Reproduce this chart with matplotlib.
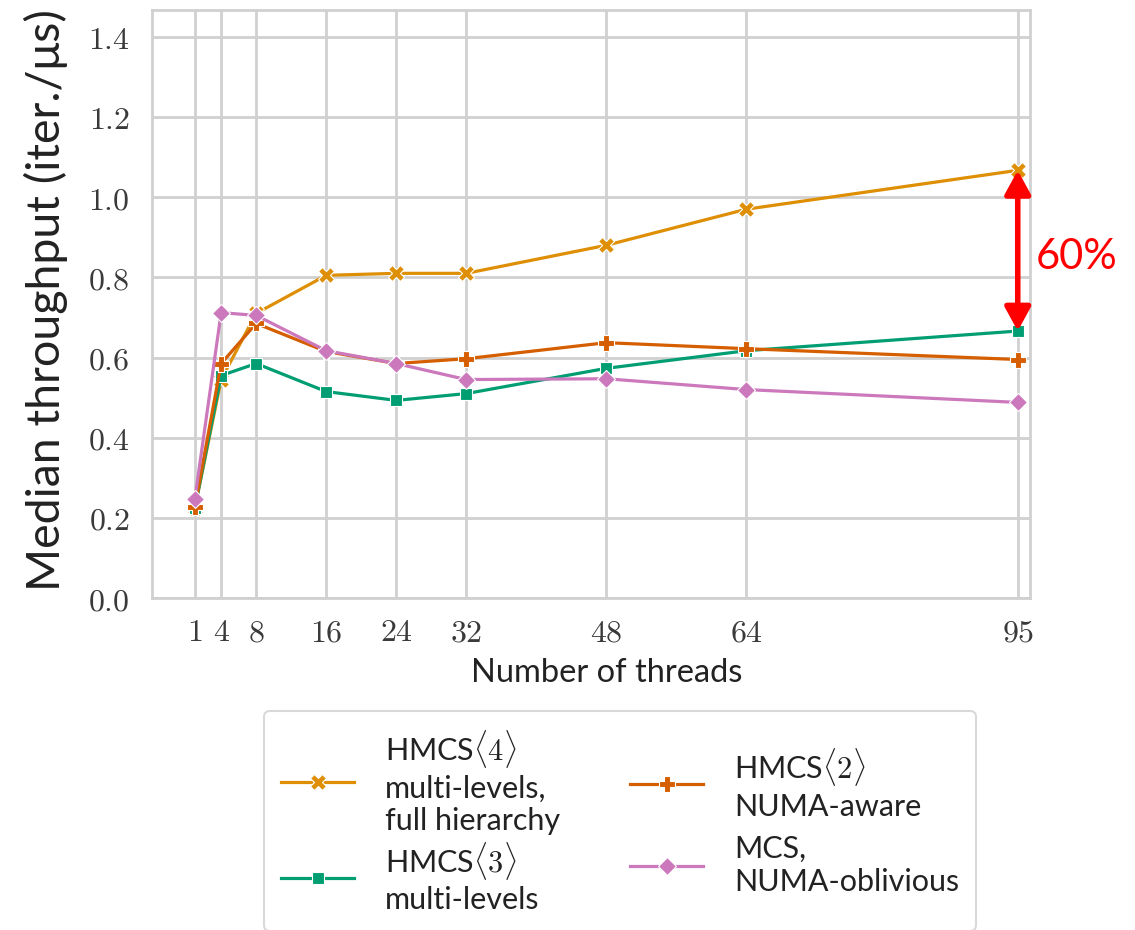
import matplotlib
matplotlib.use("Agg")
import matplotlib.pyplot as plt
from matplotlib.offsetbox import DrawingArea

plt.rcParams['mathtext.fontset'] = 'cm'

threads = [1, 4, 8, 16, 24, 32, 48, 64, 95]
hmcs4 = [0.225, 0.545, 0.71, 0.805, 0.81, 0.81, 0.88, 0.97, 1.067]
hmcs3 = [0.225, 0.555, 0.585, 0.515, 0.493, 0.51, 0.573, 0.617, 0.666]
hmcs2 = [0.228, 0.585, 0.685, 0.615, 0.585, 0.597, 0.637, 0.622, 0.595]
mcs = [0.248, 0.712, 0.705, 0.617, 0.585, 0.545, 0.547, 0.52, 0.488]

labels = ["HMCS$\\langle 4\\rangle$\nmulti-levels,\nfull hierarchy",
          "HMCS$\\langle 3\\rangle$\nmulti-levels",
          "HMCS$\\langle 2\\rangle$\nNUMA-aware",
          "MCS,\nNUMA-oblivious"]
series = [hmcs4, hmcs3, hmcs2, mcs]
colors = ["#de8f05", "#029e73", "#d55e00", "#cc78bc"]
markers = ["X", "s", "P", "D"]
msizes = [11, 9, 12, 9]

yticks = [0.0, 0.2, 0.4, 0.6, 0.8, 1.0, 1.2, 1.4]

fig = plt.figure(figsize=(11.35, 9.3), dpi=100)
ax = fig.add_axes([152/1135, 1-598/930, (1030-152)/1135, (598-10)/930])

for y, lab, c, m, ms in zip(series, labels, colors, markers, msizes):
    ax.plot(threads, y, color=c, marker=m, markersize=ms, linewidth=2.3,
            markeredgecolor='white', markeredgewidth=0.8, label=lab, zorder=3)

ax.set_xlim(-3.9, 96.4)
ax.set_ylim(0, 1.467)
ax.set_xticks(threads)
ax.set_xticklabels([f"${t}$" for t in threads], fontsize=23, color='#3a3a3a')
ax.set_yticks(yticks)
ax.set_yticklabels([f"${v:.1f}$" for v in yticks], fontsize=23, color='#3a3a3a')
ax.tick_params(length=0, pad=16)
ax.tick_params(axis='x', pad=14)
ax.grid(True, color='#d0d0d0', linewidth=2)
ax.set_axisbelow(True)
for s in ax.spines.values():
    s.set_color('#d0d0d0')
    s.set_linewidth(2)

ax.set_xlabel("Number of threads", fontsize=23.5, family='Lato', color='#222222')
ax.xaxis.set_label_coords(0.518, -0.102)
ax.set_ylabel("Median throughput (iter./\u03bcs)", fontsize=33.5, family='Lato', color='#222222')
ax.yaxis.set_label_coords(-0.096, 0.507)

ax.annotate("", xy=(95, hmcs4[-1]), xytext=(95, hmcs3[-1]),
            arrowprops=dict(arrowstyle='<|-|>,head_length=0.55,head_width=0.3', color='red', lw=4,
                            mutation_scale=26, shrinkA=0, shrinkB=0),
            zorder=5, annotation_clip=False)
ax.text(97, 0.85, "60%", color='red', fontsize=30, family='Lato',
        ha='left', va='center', clip_on=False)

leg = fig.legend(loc='center', bbox_to_anchor=(620/1135, 1-821/930), ncol=2,
                 prop={'family': 'Lato', 'size': 22},
                 frameon=True, fancybox=True, edgecolor='#d0d0d0',
                 handlelength=2.4, handletextpad=1.0, columnspacing=2.3,
                 labelspacing=0.15, borderpad=0.55)
leg.get_frame().set_linewidth(1.5)
for t in leg.get_texts():
    t.set_color('#222222')

# align rows of the second column with those of the first
hbox = leg._legend_handle_box
hbox.align = "top"
col2 = hbox.get_children()[1]
entries = list(col2.get_children())
col2.sep = 0
col2._children[:] = [DrawingArea(0, 13.2), entries[0], DrawingArea(0, 10.3), entries[1]]

fig.savefig("out.png", dpi=100, facecolor='white')
